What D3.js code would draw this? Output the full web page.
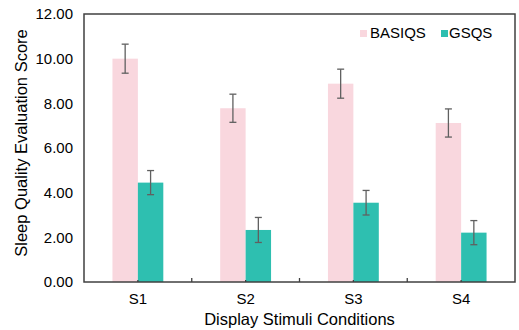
<!DOCTYPE html>
<html><head><meta charset="utf-8">
<script src="https://cdn.jsdelivr.net/npm/d3@7"></script>
<style>body{margin:0;background:#fff}svg{display:block}text{font-family:"Liberation Sans",Arial,sans-serif;fill:#000}</style>
</head><body><svg id="c" width="519" height="330"></svg>
<script>
const categories = ["S1","S2","S3","S4"];
const seriesNames = ["BASIQS","GSQS"];
const basiqs = [10.00, 7.78, 8.88, 7.12];
const basiqsErr = [0.65, 0.63, 0.65, 0.63];
const gsqs = [4.45, 2.33, 3.55, 2.21];
const gsqsErr = [0.54, 0.56, 0.55, 0.54];
const yTicks = [0,2,4,6,8,10,12];
const colors = ["#f9d7de","#2ebfb0"];

const svg = d3.select("#c");
const m = {l:84, r:515, t:14, b:282};
const x = d3.scaleBand().domain(categories).range([m.l, m.r]);
const y = d3.scaleLinear().domain([0,12]).range([m.b, m.t]);
const bw = x.bandwidth()*0.236;

const series = [
  {name:seriesNames[0], vals:basiqs, err:basiqsErr, off:-1},
  {name:seriesNames[1], vals:gsqs, err:gsqsErr, off:0}
];
series.forEach((s,si)=>{
  const g = svg.append("g");
  g.selectAll("rect").data(categories).join("rect")
    .attr("x", c => x(c)+x.bandwidth()/2 + s.off*bw)
    .attr("width", bw)
    .attr("y", (c,i)=>y(s.vals[i]))
    .attr("height", (c,i)=>y(0)-y(s.vals[i]))
    .attr("fill", colors[si]);
});
// error bars
series.forEach(s=>{
  const g = svg.append("g").attr("stroke","#606060").attr("stroke-width",1.3).attr("fill","none");
  categories.forEach((c,i)=>{
    const cx = x(c)+x.bandwidth()/2 + s.off*bw + bw/2;
    const y1 = y(s.vals[i]+s.err[i]), y2 = y(s.vals[i]-s.err[i]);
    g.append("line").attr("x1",cx).attr("x2",cx).attr("y1",y1).attr("y2",y2);
    g.append("line").attr("x1",cx-3.5).attr("x2",cx+3.5).attr("y1",y1).attr("y2",y1);
    g.append("line").attr("x1",cx-3.5).attr("x2",cx+3.5).attr("y1",y2).attr("y2",y2);
  });
});
// frame
svg.append("rect").attr("x",m.l).attr("y",m.t).attr("width",m.r-m.l).attr("height",m.b-m.t)
  .attr("fill","none").attr("stroke","#404040").attr("stroke-width",1.5);
// x ticks (between categories, inside)
const bounds = categories.slice(1).map(c=>x(c));
svg.append("g").selectAll("line").data(bounds).join("line")
  .attr("x1",d=>d).attr("x2",d=>d).attr("y1",m.b).attr("y2",m.b-4)
  .attr("stroke","#404040").attr("stroke-width",1.3);
svg.append("g").selectAll("line").data(categories).join("line")
  .attr("x1",c=>x(c)+x.bandwidth()/2).attr("x2",c=>x(c)+x.bandwidth()/2).attr("y1",m.b).attr("y2",m.b-2)
  .attr("stroke","#404040").attr("stroke-width",1.3);
// axes labels
const yAxis = d3.axisLeft(y).tickValues(yTicks).tickFormat(d3.format(".2f")).tickSize(0).tickPadding(11);
const ya = svg.append("g").attr("transform",`translate(${m.l},0)`).call(yAxis);
ya.select(".domain").remove();
ya.selectAll("text").style("font-size","15px").attr("fill","#000").style("font-family","'Liberation Sans',Arial,sans-serif");
const xAxis = d3.axisBottom(x).tickSize(0).tickPadding(11);
const xa = svg.append("g").attr("transform",`translate(0,${m.b})`).call(xAxis);
xa.select(".domain").remove();
xa.selectAll("text").style("font-size","15px").attr("fill","#000").style("font-family","'Liberation Sans',Arial,sans-serif");
// titles
svg.append("text").attr("x",(m.l+m.r)/2).attr("y",325).attr("text-anchor","middle")
  .style("font-size","16.5px").text("Display Stimuli Conditions");
svg.append("text").attr("transform",`translate(27,${(m.t+m.b)/2 - 5}) rotate(-90)`).attr("text-anchor","middle")
  .style("font-size","16.5px").text("Sleep Quality Evaluation Score");
// legend
const lx = [360, 441];
seriesNames.forEach((n,i)=>{
  svg.append("rect").attr("x",lx[i]).attr("y",30).attr("width",7).attr("height",7).attr("fill",colors[i]);
  svg.append("text").attr("x",lx[i]+(i===0?10:8)).attr("y",38).style("font-size","15px").text(n);
});
</script></body></html>
